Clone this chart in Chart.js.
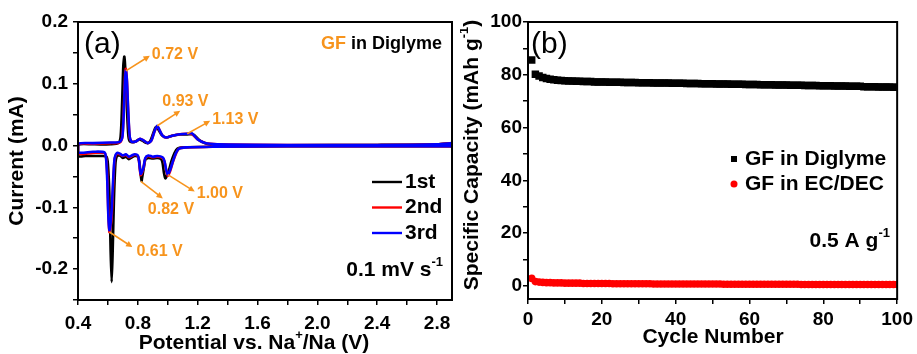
<!DOCTYPE html>
<html>
<head>
<meta charset="utf-8">
<title>GF in Diglyme – CV and cycling</title>
<script src="https://cdn.jsdelivr.net/npm/chart.js@4/dist/chart.umd.min.js"></script>
<style>
  html, body { margin: 0; padding: 0; background: #fff; }
  #wrap { position: relative; width: 917px; height: 354px; overflow: hidden; background: #fff; }
  #cv { position: absolute; left: 0; top: 0; }
  #cyc { position: absolute; left: 460px; top: 0; }
</style>
</head>
<body>
<div id="wrap">
  <canvas id="cv" width="460" height="354"></canvas>
  <canvas id="cyc" width="457" height="354"></canvas>
</div>
<script>
// ---- (a) cyclic voltammetry, [potential V, current mA], cathodic sweep then anodic sweep
const cycle1 = [
  [2.90, -0.001], [2.40, -0.001], [1.80, -0.001], [1.30, -0.002], [1.10, -0.003], [1.065, -0.005],
  [1.045, -0.012], [1.025, -0.025], [1.005, -0.042], [0.985, -0.053], [0.975, -0.045], [0.965, -0.028],
  [0.955, -0.022], [0.93, -0.020], [0.90, -0.021], [0.87, -0.020], [0.85, -0.023], [0.84, -0.036],
  [0.83, -0.050], [0.825, -0.057], [0.818, -0.045], [0.81, -0.026], [0.80, -0.018], [0.78, -0.017],
  [0.76, -0.019], [0.74, -0.022], [0.72, -0.018], [0.70, -0.020], [0.68, -0.016], [0.66, -0.017],
  [0.65, -0.030], [0.64, -0.090], [0.632, -0.170], [0.625, -0.221], [0.618, -0.170], [0.61, -0.080],
  [0.60, -0.030], [0.59, -0.018], [0.55, -0.017], [0.45, -0.017], [0.40, -0.017],
  [0.40, 0.001], [0.50, 0.002], [0.62, 0.002], [0.67, 0.004], [0.685, 0.015], [0.695, 0.070],
  [0.703, 0.130], [0.71, 0.144], [0.717, 0.120], [0.727, 0.060], [0.737, 0.015], [0.75, 0.006],
  [0.78, 0.006], [0.81, 0.010], [0.83, 0.008], [0.86, 0.004], [0.88, 0.006], [0.90, 0.018],
  [0.92, 0.030], [0.935, 0.027], [0.96, 0.017], [0.99, 0.013], [1.03, 0.016], [1.08, 0.018],
  [1.13, 0.018], [1.17, 0.018], [1.21, 0.009], [1.26, 0.003], [1.35, 0.001], [1.80, 0.0005],
  [2.40, 0.001], [2.80, 0.002], [2.90, 0.004]
];
const cycle2 = [
  [2.90, -0.001], [2.40, -0.001], [1.80, -0.001], [1.30, -0.002], [1.12, -0.003], [1.075, -0.005],
  [1.055, -0.013], [1.035, -0.026], [1.015, -0.042], [1.0, -0.049], [0.99, -0.041], [0.978, -0.026],
  [0.965, -0.020], [0.93, -0.018], [0.90, -0.019], [0.87, -0.017], [0.85, -0.021], [0.838, -0.036],
  [0.82, -0.048], [0.815, -0.042], [0.808, -0.026], [0.80, -0.017], [0.78, -0.015], [0.76, -0.017],
  [0.74, -0.019], [0.72, -0.015], [0.70, -0.017], [0.68, -0.014], [0.66, -0.013], [0.645, -0.022],
  [0.635, -0.065], [0.625, -0.115], [0.615, -0.136], [0.61, -0.140], [0.603, -0.112], [0.596, -0.050],
  [0.588, -0.020], [0.577, -0.012], [0.50, -0.012], [0.40, -0.013],
  [0.40, 0.002], [0.50, 0.003], [0.62, 0.004], [0.68, 0.005], [0.697, 0.016], [0.707, 0.065],
  [0.715, 0.115], [0.72, 0.124], [0.727, 0.105], [0.736, 0.052], [0.746, 0.013], [0.76, 0.006],
  [0.79, 0.007], [0.815, 0.011], [0.84, 0.008], [0.866, 0.004], [0.89, 0.008], [0.91, 0.022],
  [0.93, 0.031], [0.945, 0.025], [0.965, 0.016], [0.99, 0.013], [1.03, 0.016], [1.07, 0.018],
  [1.13, 0.019], [1.16, 0.019], [1.20, 0.010], [1.25, 0.004], [1.33, 0.002], [1.80, 0.001],
  [2.40, 0.001], [2.80, 0.002], [2.90, 0.004]
];
const cycle3 = [
  [2.90, -0.001], [2.40, -0.001], [1.80, -0.001], [1.30, -0.002], [1.12, -0.003], [1.075, -0.005],
  [1.055, -0.012], [1.035, -0.025], [1.015, -0.040], [1.0, -0.047], [0.99, -0.040], [0.978, -0.025],
  [0.965, -0.019], [0.93, -0.017], [0.90, -0.018], [0.87, -0.016], [0.85, -0.020], [0.838, -0.035],
  [0.82, -0.046], [0.815, -0.040], [0.808, -0.025], [0.80, -0.016], [0.78, -0.014], [0.76, -0.016],
  [0.74, -0.018], [0.72, -0.014], [0.70, -0.016], [0.68, -0.013], [0.66, -0.012], [0.645, -0.020],
  [0.635, -0.055], [0.625, -0.105], [0.615, -0.133], [0.61, -0.137], [0.603, -0.115], [0.596, -0.060],
  [0.588, -0.022], [0.577, -0.011], [0.50, -0.010], [0.40, -0.011],
  [0.40, 0.003], [0.50, 0.004], [0.62, 0.005], [0.68, 0.006], [0.697, 0.014], [0.707, 0.060],
  [0.715, 0.110], [0.72, 0.121], [0.727, 0.105], [0.736, 0.055], [0.746, 0.014], [0.76, 0.006],
  [0.79, 0.007], [0.815, 0.011], [0.84, 0.008], [0.866, 0.004], [0.89, 0.008], [0.91, 0.022],
  [0.93, 0.032], [0.945, 0.025], [0.965, 0.016], [0.99, 0.013], [1.03, 0.016], [1.07, 0.018],
  [1.13, 0.019], [1.16, 0.020], [1.20, 0.010], [1.25, 0.004], [1.33, 0.002], [1.80, 0.001],
  [2.40, 0.001], [2.80, 0.002], [2.90, 0.004]
];
const cycleNames = ['1st', '2nd', '3rd'];
const cycleColors = ['#000000', '#ff0000', '#0000ff'];

// peak markers (potential, current) and their labels
const peakLabels = ['0.72 V', '0.93 V', '1.13 V', '1.00 V', '0.82 V', '0.61 V'];
const peakPotential = [0.72, 0.93, 1.13, 1.00, 0.82, 0.61];
const peakCurrent = [0.121, 0.032, 0.019, -0.047, -0.058, -0.140];

// ---- (b) capacity vs cycle number
const cycles = Array.from({ length: 100 }, (_, i) => i + 1);
const capDiglyme = [
  85.6, 80.2, 79.5, 79.0, 78.6, 78.3, 78.1, 77.9, 77.8, 77.7,
  77.6, 77.6, 77.5, 77.5, 77.4, 77.4, 77.4, 77.3, 77.3, 77.3,
  77.3, 77.2, 77.2, 77.2, 77.2, 77.1, 77.1, 77.1, 77.1, 77.0,
  77.0, 77.0, 77.0, 76.9, 76.9, 76.9, 76.9, 76.9, 76.8, 76.8,
  76.8, 76.8, 76.7, 76.7, 76.7, 76.7, 76.6, 76.6, 76.6, 76.6,
  76.5, 76.5, 76.5, 76.5, 76.4, 76.4, 76.4, 76.4, 76.3, 76.3,
  76.3, 76.3, 76.2, 76.2, 76.2, 76.2, 76.1, 76.1, 76.1, 76.1,
  76.0, 76.0, 76.0, 76.0, 75.9, 75.9, 75.9, 75.9, 75.8, 75.8,
  75.8, 75.8, 75.7, 75.7, 75.7, 75.7, 75.6, 75.6, 75.6, 75.6,
  75.5, 75.5, 75.5, 75.5, 75.4, 75.4, 75.4, 75.4, 75.3, 75.3
];
const capEcDec = [
  2.8, 1.6, 1.4, 1.3, 1.2, 1.2, 1.1, 1.1, 1.1, 1.0,
  1.0, 1.0, 1.0, 1.0, 0.9, 0.9, 0.9, 0.9, 0.9, 0.9,
  0.9, 0.9, 0.8, 0.8, 0.8, 0.8, 0.8, 0.8, 0.8, 0.8,
  0.8, 0.8, 0.8, 0.7, 0.7, 0.7, 0.7, 0.7, 0.7, 0.7,
  0.7, 0.7, 0.7, 0.7, 0.7, 0.7, 0.7, 0.7, 0.7, 0.7,
  0.7, 0.7, 0.6, 0.6, 0.6, 0.6, 0.6, 0.6, 0.6, 0.6,
  0.6, 0.6, 0.6, 0.6, 0.6, 0.6, 0.6, 0.6, 0.6, 0.6,
  0.6, 0.6, 0.6, 0.5, 0.5, 0.5, 0.5, 0.5, 0.5, 0.5,
  0.5, 0.5, 0.5, 0.5, 0.5, 0.5, 0.5, 0.5, 0.5, 0.5,
  0.5, 0.5, 0.5, 0.5, 0.5, 0.5, 0.5, 0.5, 0.5, 0.5
];
const capNames = ['GF in Diglyme', 'GF in EC/DEC'];

const ORANGE = '#f7941d';
const FAMILY = '"Liberation Sans", Arial, Helvetica, sans-serif';
const font = (size, weight = 'bold') => `${weight} ${size}px ${FAMILY}`;

Chart.defaults.font.family = FAMILY;
Chart.defaults.color = '#000';
Chart.defaults.animation = false;

// draw a run of text pieces, some of them raised as superscripts
function richText(ctx, parts, x, y, align, size) {
  let w = 0;
  parts.forEach(p => {
    ctx.font = font(p.sup ? Math.round(size * 0.62) : size);
    w += ctx.measureText(p.t).width;
  });
  let cx = align === 'right' ? x - w : align === 'center' ? x - w / 2 : x;
  ctx.textAlign = 'left';
  ctx.textBaseline = 'middle';
  parts.forEach(p => {
    ctx.font = font(p.sup ? Math.round(size * 0.62) : size);
    ctx.fillStyle = p.c || '#000';
    ctx.fillText(p.t, cx, p.sup ? y - size * 0.38 : y);
    cx += ctx.measureText(p.t).width;
  });
}

function vertText(ctx, parts, x, y, size) {
  ctx.save();
  ctx.translate(x, y);
  ctx.rotate(-Math.PI / 2);
  richText(ctx, parts, 0, 0, 'center', size);
  ctx.restore();
}

function arrow(ctx, x0, y0, x1, y1) {
  const a = Math.atan2(y1 - y0, x1 - x0);
  const h = 7;
  ctx.strokeStyle = ORANGE;
  ctx.fillStyle = ORANGE;
  ctx.lineWidth = 1.6;
  ctx.beginPath();
  ctx.moveTo(x0, y0);
  ctx.lineTo(x1 - Math.cos(a) * h * 0.8, y1 - Math.sin(a) * h * 0.8);
  ctx.stroke();
  ctx.beginPath();
  ctx.moveTo(x1, y1);
  ctx.lineTo(x1 - h * Math.cos(a - 0.45), y1 - h * Math.sin(a - 0.45));
  ctx.lineTo(x1 - h * Math.cos(a + 0.45), y1 - h * Math.sin(a + 0.45));
  ctx.closePath();
  ctx.fill();
}

function frame(chart) {
  const { ctx, chartArea: a } = chart;
  ctx.save();
  ctx.strokeStyle = '#000';
  ctx.lineWidth = 2;
  ctx.strokeRect(a.left, a.top, a.right - a.left, a.bottom - a.top);
  ctx.restore();
}

const isMultiple = (v, step) => Math.abs(v / step - Math.round(v / step)) < 1e-6;

function axisStyle(min, max, step, labelStep, decimals, padding) {
  return {
    type: 'linear',
    min, max,
    border: { display: false },
    grid: { drawOnChartArea: false, drawTicks: true, tickLength: 5, color: '#000', lineWidth: 1.5 },
    ticks: {
      stepSize: step,
      includeBounds: false,
      autoSkip: false,
      maxRotation: 0,
      padding,
      color: '#000',
      font: { size: 19, weight: 'bold' },
      callback: v => {
        if (!isMultiple(v, labelStep)) return '';
        if (Math.abs(v) < 1e-9) v = 0;
        return v.toFixed(decimals);
      }
    }
  };
}

// ---------- panel (a)
const cvDecor = {
  id: 'cvDecor',
  afterDraw(chart) {
    const { ctx, scales: { x, y } } = chart;
    frame(chart);
    ctx.save();

    ctx.font = font(30, 'normal');
    ctx.fillStyle = '#000';
    ctx.textAlign = 'left';
    ctx.textBaseline = 'middle';
    ctx.fillText('(a)', 84, 45);

    richText(ctx, [{ t: 'GF', c: ORANGE }, { t: ' in Diglyme' }], 442, 44, 'right', 18);
    richText(ctx, [{ t: '0.1 mV s' }, { t: '-1', sup: true }], 443, 270, 'right', 21);

    // legend
    cycleNames.forEach((name, i) => {
      const ly = 182 + i * 25.5;
      ctx.strokeStyle = cycleColors[i];
      ctx.lineWidth = 2.4;
      ctx.beginPath();
      ctx.moveTo(372, ly);
      ctx.lineTo(402, ly);
      ctx.stroke();
      ctx.font = font(21);
      ctx.fillStyle = '#000';
      ctx.textAlign = 'left';
      ctx.textBaseline = 'middle';
      ctx.fillText(name, 405, ly);
    });

    // peak arrows: [dx, dy] to the arrow tip, [dx, dy] from tip to label's left-middle
    const arrowOffsets = [[24, -15], [23, -15], [23, -13], [27, 17], [22, 17], [23, 15]];
    const labelOffsets = [[2, -1], [-18, -9], [2, -1], [2, 2], [-15, 11], [4, 5]];
    peakLabels.forEach((lab, i) => {
      const px = x.getPixelForValue(peakPotential[i]);
      const py = y.getPixelForValue(peakCurrent[i]);
      const tx = px + arrowOffsets[i][0], ty = py + arrowOffsets[i][1];
      arrow(ctx, px, py, tx, ty);
      ctx.font = font(16);
      ctx.fillStyle = ORANGE;
      ctx.textAlign = 'left';
      ctx.textBaseline = 'middle';
      ctx.fillText(lab, tx + labelOffsets[i][0], ty + labelOffsets[i][1]);
    });

    vertText(ctx, [{ t: 'Current (mA)' }], 17, 161, 21);
    richText(ctx, [{ t: 'Potential vs. Na' }, { t: '+', sup: true }, { t: '/Na (V)' }], 254, 343, 'center', 21);
    ctx.restore();
  }
};

const cvX = axisStyle(0.4, 2.9, 0.2, 0.4, 1, 7);
cvX.afterFit = s => { s.height = 54; };
const cvY = axisStyle(-0.25, 0.2, 0.05, 0.1, 1, 5);
cvY.afterFit = s => { s.width = 78; };

new Chart(document.getElementById('cv'), {
  type: 'scatter',
  data: {
    datasets: [cycle1, cycle2, cycle3].map((pts, i) => ({
      label: cycleNames[i],
      data: pts.map(([v, c]) => ({ x: v, y: c })),
      showLine: true,
      borderColor: cycleColors[i],
      borderWidth: 2.6,
      pointRadius: 0,
      tension: 0.25,
      fill: false,
      order: 3 - i
    }))
  },
  options: {
    responsive: false,
    layout: { padding: { left: 0, right: 8, top: 22, bottom: 0 } },
    plugins: { legend: { display: false }, tooltip: { enabled: false } },
    scales: { x: cvX, y: cvY }
  },
  plugins: [cvDecor]
});

// ---------- panel (b)
const cycDecor = {
  id: 'cycDecor',
  afterDraw(chart) {
    const { ctx } = chart;
    frame(chart);
    ctx.save();
    ctx.font = font(30, 'normal');
    ctx.fillStyle = '#000';
    ctx.textAlign = 'left';
    ctx.textBaseline = 'middle';
    ctx.fillText('(b)', 71, 45);

    // legend
    ctx.fillStyle = '#000';
    ctx.fillRect(271, 156, 6, 6);
    ctx.fillStyle = '#ff0000';
    ctx.beginPath();
    ctx.arc(274, 184, 3.5, 0, Math.PI * 2);
    ctx.fill();
    ctx.font = font(21);
    ctx.fillStyle = '#000';
    ctx.fillText(capNames[0], 285, 159);
    ctx.fillText(capNames[1], 285, 184);

    richText(ctx, [{ t: '0.5 A g' }, { t: '-1', sup: true }], 430, 241, 'right', 21);

    vertText(ctx, [{ t: 'Specific Capacity (mAh g' }, { t: '-1', sup: true }, { t: ')' }], 12, 155, 21);
    richText(ctx, [{ t: 'Cycle Number' }], 253, 337, 'center', 21);
    ctx.restore();
  }
};

const cycX = axisStyle(0, 100, 10, 20, 0, 4);
cycX.afterFit = s => { s.height = 55; };
const cycY = axisStyle(-5, 100, 10, 20, 0, 1);
cycY.afterFit = s => { s.width = 68; };

new Chart(document.getElementById('cyc'), {
  type: 'scatter',
  data: {
    datasets: [
      {
        label: capNames[0],
        data: cycles.map((c, i) => ({ x: c, y: capDiglyme[i] })),
        pointStyle: 'rect',
        pointRadius: 5.3,
        backgroundColor: '#000',
        borderWidth: 0
      },
      {
        label: capNames[1],
        data: cycles.map((c, i) => ({ x: c, y: capEcDec[i] })),
        pointStyle: 'circle',
        pointRadius: 3.8,
        backgroundColor: '#ff0000',
        borderWidth: 0
      }
    ]
  },
  options: {
    responsive: false,
    layout: { padding: { left: 0, right: 18, top: 22, bottom: 0 } },
    plugins: { legend: { display: false }, tooltip: { enabled: false } },
    scales: { x: cycX, y: cycY }
  },
  plugins: [cycDecor]
});
</script>
</body>
</html>
